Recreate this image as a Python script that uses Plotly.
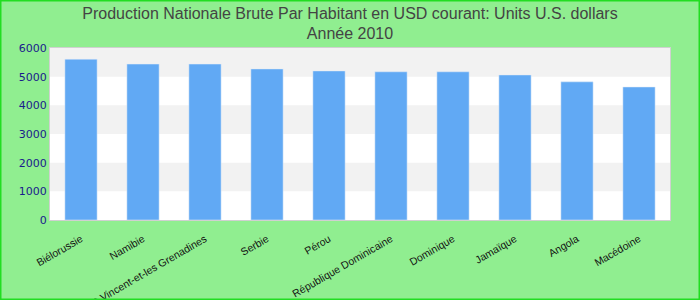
import plotly.graph_objects as go

categories = ["Biélorussie", "Namibie", "Saint-Vincent-et-les Grenadines", "Serbie", "Pérou",
              "République Dominicaine", "Dominique", "Jamaïque", "Angola", "Macédoine"]
values = [5610, 5440, 5440, 5270, 5200, 5170, 5170, 5060, 4820, 4640]
y_ticks = [0, 1000, 2000, 3000, 4000, 5000, 6000]

fig = go.Figure()
fig.add_trace(go.Bar(x=categories, y=values, marker_color="#61a9f4", width=0.52))

shapes = []
for lo in [1000, 3000, 5000]:
    shapes.append(dict(type="rect", xref="paper", yref="y", x0=0, x1=1, y0=lo, y1=lo + 1000,
                       fillcolor="#f2f2f2", line_width=0, layer="below"))
# page border
shapes.append(dict(type="rect", xref="paper", yref="paper",
                   x0=-50/620 + 0.5/620, x1=650/620 - 0.5/620,
                   y0=-80/172 + 0.5/172, y1=1 + 48/172 - 0.5/172,
                   line=dict(color="#22dd22", width=2), fillcolor="rgba(0,0,0,0)", layer="above"))

fig.update_layout(
    width=700, height=300,
    margin=dict(l=50, r=30, t=48, b=80, autoexpand=False),
    paper_bgcolor="#90ee90", plot_bgcolor="white",
    title=dict(text="Production Nationale Brute Par Habitant en USD courant: Units U.S. dollars<br>Année 2010",
               x=0.5, xanchor="center", y=1 - 18.5/300, yanchor="middle", yref="container",
               font=dict(family="Liberation Sans, Arial", size=16, color="#444444")),
    shapes=shapes,
    showlegend=False,
)
fig.update_xaxes(tickangle=-30, tickfont=dict(family="Liberation Sans, Arial", size=10.5, color="#111111"),
                 showline=True, linecolor="#d0d0d0", linewidth=1, mirror=True, ticks="",
                 automargin=False, ticklabelstandoff=8)
fig.update_yaxes(range=[0, 6000], tickvals=y_ticks, showgrid=False, zeroline=False,
                 tickfont=dict(family="DejaVu Sans", size=11, color="#1a1a8c"),
                 showline=True, linecolor="#d0d0d0", linewidth=1, mirror=True, ticks="",
                 automargin=False)

fig.write_html("out.html")
